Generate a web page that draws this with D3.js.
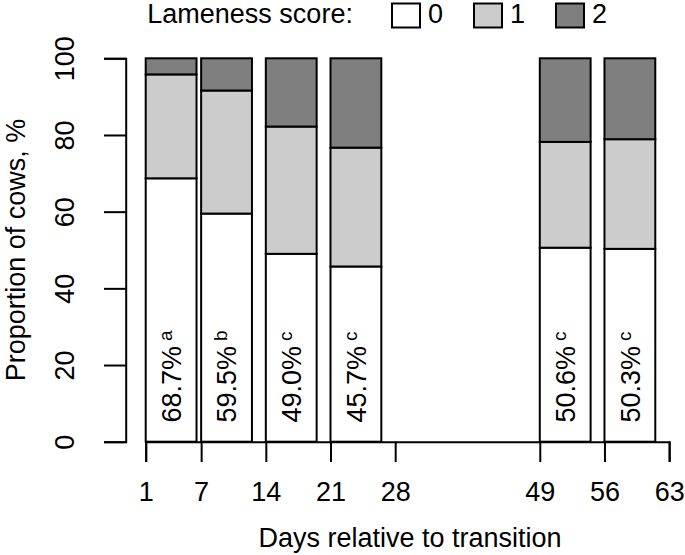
<!DOCTYPE html>
<html>
<head>
<meta charset="utf-8">
<script src="https://cdn.jsdelivr.net/npm/d3@7"></script>
<style>
  body { margin: 0; background: #fff; }
  text { font-family: "Liberation Sans", Arial, Helvetica, sans-serif; }
</style>
</head>
<body>
<div id="chart"></div>
<script>
// data
const weekStart = [1, 7, 14, 21, 49, 56];          // first day of each week shown
const score0 = [68.7, 59.5, 49.0, 45.7, 50.6, 50.3]; // % cows, lameness score 0
const score1 = [27.1, 32.1, 33.2, 31.0, 27.6, 28.6]; // % cows, score 1
const score2 = [4.2, 8.4, 17.8, 23.3, 21.8, 21.1];   // % cows, score 2
const letters = ["a", "b", "c", "c", "c", "c"];
const scoreNames = ["0", "1", "2"];
const xTicks = [1, 7, 14, 21, 28, 49, 56, 63];
const yTicks = [0, 20, 40, 60, 80, 100];

const width = 685, height = 555;
const fontSize = 27;
const colors = ["#ffffff", "#cccccc", "#7f7f7f"];

// plot area (the axis is broken between day 28 and 49)
const yTop = 58.3, yBottom = 441.7, axisX = 125.7;
const xLeft = 145.7, dayPx = 9.24, gapDays = 15.65, barDays = 5.5;

const svg = d3.select("#chart")
  .append("svg")
    .attr("width", width)
    .attr("height", height);

// X scale, piecewise so the gap 28 -> 49 is squeezed
const x = d3.scaleLinear()
  .domain([1, 28, 49, 63])
  .range([xLeft,
          xLeft + 27 * dayPx,
          xLeft + (27 + gapDays) * dayPx,
          xLeft + (27 + gapDays + 14) * dayPx]);

const y = d3.scaleLinear()
  .domain([0, 100])
  .range([yBottom, yTop]);

// table for the stack
const rows = weekStart.map((d, i) => ({
  start: d, s0: score0[i], s1: score1[i], s2: score2[i], letter: letters[i]
}));
const series = d3.stack().keys(["s0", "s1", "s2"])(rows);

// X axis
const xAxis = svg.append("g")
  .attr("transform", "translate(0," + yBottom + ")")
  .call(d3.axisBottom(x)
    .tickValues(xTicks)
    .tickSizeOuter(0)
    .tickSize(20.3)
    .tickPadding(19.5)
    .tickFormat(d3.format("d")));
xAxis.selectAll("line, path").attr("stroke", "#000").attr("stroke-width", 2);
xAxis.selectAll("text")
  .attr("font-size", fontSize)
  .attr("font-family", null)
  .attr("fill", "#000");
xAxis.attr("font-family", null).attr("font-size", null);

// Y axis
const yAxis = svg.append("g")
  .attr("transform", "translate(" + axisX + ",0)")
  .call(d3.axisLeft(y)
    .tickValues(yTicks)
    .tickSizeOuter(0)
    .tickSize(21.7));
yAxis.selectAll("line, path").attr("stroke", "#000").attr("stroke-width", 2);
yAxis.attr("font-family", null).attr("font-size", null);
yAxis.selectAll("text")
  .attr("x", 0)
  .attr("dy", null)
  .attr("font-size", fontSize)
  .attr("fill", "#000")
  .attr("text-anchor", "middle")
  .attr("transform", "translate(" + (74 - axisX) + ",0) rotate(-90)");

// Bars
svg.append("g")
  .selectAll("g")
  .data(series)
  .join("g")
    .attr("fill", (d, i) => colors[i])
  .selectAll("rect")
  .data(d => d)
  .join("rect")
    .attr("x", d => x(d.data.start))
    .attr("width", d => x(d.data.start + barDays) - x(d.data.start))
    .attr("y", d => y(d[1]))
    .attr("height", d => y(d[0]) - y(d[1]))
    .attr("stroke", "#000")
    .attr("stroke-width", 2);

// percentage of score 0 written up the bars
const label = svg.append("g")
  .selectAll("text")
  .data(rows)
  .join("text")
    .attr("transform", d => "translate(" + (x(d.start) + (x(d.start + barDays) - x(d.start)) / 2) + "," + y(5) + ") rotate(-90)")
    .attr("font-size", fontSize)
    .attr("dy", "0.36em");
label.append("tspan").text(d => d3.format(".1f")(d.s0) + "%");
label.append("tspan")
  .attr("font-size", 19)
  .attr("dx", 5)
  .attr("dy", -9)
  .text(d => d.letter);

// axis titles
svg.append("text")
  .attr("x", 410)
  .attr("y", 546.7)
  .attr("text-anchor", "middle")
  .attr("font-size", fontSize)
  .text("Days relative to transition");

svg.append("text")
  .attr("transform", "translate(25," + ((yTop + yBottom) / 2) + ") rotate(-90)")
  .attr("text-anchor", "middle")
  .attr("font-size", fontSize)
  .text("Proportion of cows, %");

// Legend
svg.append("text")
  .attr("x", 147.3)
  .attr("y", 23.3)
  .attr("font-size", fontSize)
  .text("Lameness score:");

const legendX = d3.scalePoint()
  .domain(scoreNames)
  .range([392, 556]);

const legend = svg.append("g")
  .selectAll("g")
  .data(scoreNames)
  .join("g")
    .attr("transform", d => "translate(" + legendX(d) + ",0)");

legend.append("rect")
  .attr("y", 3.5)
  .attr("width", 28)
  .attr("height", 24)
  .attr("fill", (d, i) => colors[i])
  .attr("stroke", "#000")
  .attr("stroke-width", 2);

legend.append("text")
  .attr("x", 36)
  .attr("y", 23.3)
  .attr("font-size", fontSize)
  .text(d => d);
</script>
</body>
</html>
